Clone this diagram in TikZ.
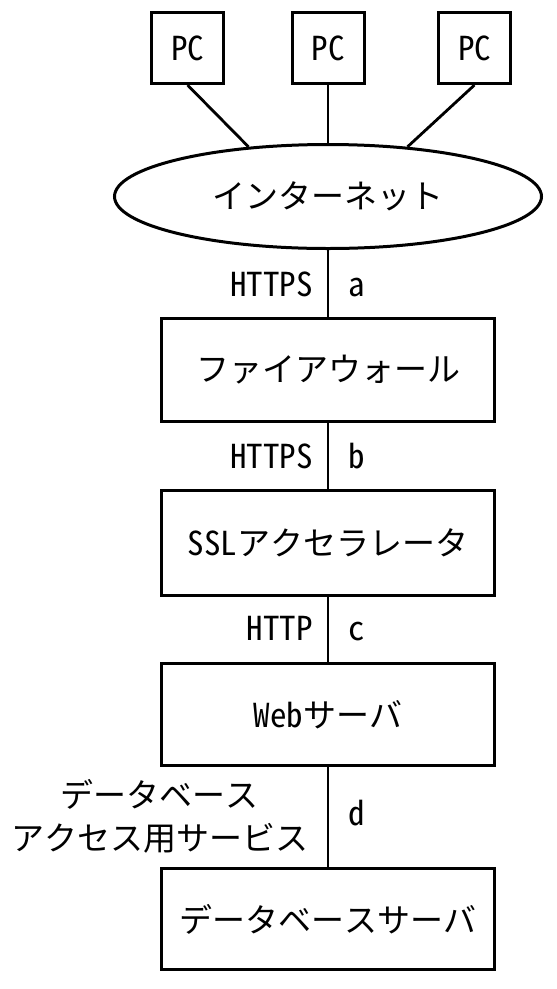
\documentclass[tikz,border=0pt]{standalone}
\usepackage{fontspec}
\setmainfont{Noto Sans Mono CJK JP}
\usetikzlibrary{shapes.geometric}
\begin{document}
\begin{tikzpicture}[x=1pt,y=-1pt,
  every node/.style={font=\fontsize{33}{43}\selectfont},
  box/.style={draw,line width=3pt,rectangle,inner sep=0pt},
  pcbox/.style={box,minimum width=72pt,minimum height=71pt},
  srvbox/.style={box,minimum width=333pt,minimum height=103pt},
  link/.style={line width=2.8pt},
  lbl/.style={inner sep=0pt}]
\useasboundingbox (0,0) rectangle (557,989);
\node[pcbox] (pc1) at (187.5,48) {PC};
\node[pcbox] (pc2) at (328,48) {PC};
\node[pcbox] (pc3) at (474.5,48) {PC};
\node[draw,ellipse,line width=3pt,inner sep=0pt,minimum width=427pt,minimum height=104pt] (inet) at (328,196.5) {インターネット};
\node[srvbox] (fw) at (328,370) {ファイアウォール};
\node[srvbox,minimum height=105pt] (ssl) at (328,542.5) {SSLアクセラレータ};
\node[srvbox,minimum height=102pt] (web) at (328,714.5) {Webサーバ};
\node[srvbox,minimum height=101pt] (db) at (328,919) {データベースサーバ};
\draw[link] (pc1.south) -- (inet.148);
\draw[link] (pc2.south) -- (inet.north);
\draw[link] (pc3.south) -- (inet.32);
\draw[link] (inet.south) -- (fw.north);
\draw[link] (fw.south) -- (ssl.north);
\draw[link] (ssl.south) -- (web.north);
\draw[link] (web.south) -- (db.north);
\node[lbl,anchor=base east] (la1) at (313,296) {HTTPS};
\node[lbl,anchor=base west] (la2) at (348,296) {a};
\node[lbl,anchor=base east] (lb1) at (313,468) {HTTPS};
\node[lbl,anchor=base west] (lb2) at (348,468) {b};
\node[lbl,anchor=base east] (lc1) at (313,640) {HTTP};
\node[lbl,anchor=base west] (lc2) at (348,640) {c};
\node[lbl,align=center] (ld1) at (160,816.5) {データベース\\アクセス用サービス};
\node[lbl,anchor=base west] (ld2) at (348,825) {d};
\end{tikzpicture}
\end{document}
